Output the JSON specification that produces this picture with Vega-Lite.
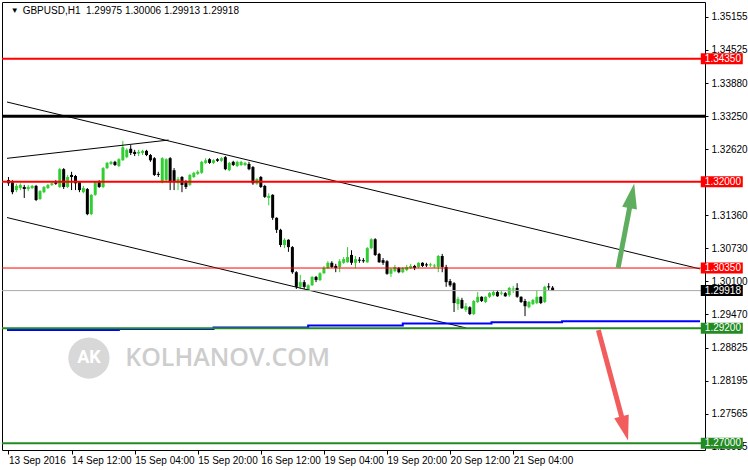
{
"$schema":"https://vega.github.io/schema/vega-lite/v6.json",
"width":703,"height":448,"autosize":"none",
"padding":{"left":2,"top":2,"right":43,"bottom":20},
"background":"white",
"config":{"view":{"stroke":"#000","strokeWidth":1},"axis":{"labelFont":"Liberation Sans","labelFontSize":10,"labelColor":"#000","tickColor":"#000","domain":false,"grid":false,"labelOverlap":false,"labelBound":false,"labelSeparation":0}},
"datasets":{
"bars":[
{"i":0,"o":1.3203,"h":1.3209,"l":1.3192,"c":1.3197},
{"i":1,"o":1.3199,"h":1.3203,"l":1.3176,"c":1.3180},
{"i":2,"o":1.3184,"h":1.3196,"l":1.3180,"c":1.3192},
{"i":3,"o":1.3188,"h":1.3197,"l":1.3184,"c":1.3194},
{"i":4,"o":1.3190,"h":1.3194,"l":1.3169,"c":1.3186},
{"i":5,"o":1.3186,"h":1.3194,"l":1.3182,"c":1.3190},
{"i":6,"o":1.3188,"h":1.3194,"l":1.3186,"c":1.3192},
{"i":7,"o":1.3192,"h":1.3194,"l":1.3163,"c":1.3165},
{"i":8,"o":1.3167,"h":1.3184,"l":1.3165,"c":1.3182},
{"i":9,"o":1.3180,"h":1.3192,"l":1.3178,"c":1.3190},
{"i":10,"o":1.3188,"h":1.3196,"l":1.3186,"c":1.3194},
{"i":11,"o":1.3194,"h":1.3199,"l":1.3192,"c":1.3197},
{"i":12,"o":1.3199,"h":1.3203,"l":1.3194,"c":1.3196},
{"i":13,"o":1.3190,"h":1.3226,"l":1.3188,"c":1.3224},
{"i":14,"o":1.3224,"h":1.3226,"l":1.3186,"c":1.3190},
{"i":15,"o":1.3190,"h":1.3213,"l":1.3188,"c":1.3209},
{"i":16,"o":1.3213,"h":1.3219,"l":1.3184,"c":1.3209},
{"i":17,"o":1.3211,"h":1.3213,"l":1.3184,"c":1.3197},
{"i":18,"o":1.3199,"h":1.3201,"l":1.3180,"c":1.3184},
{"i":19,"o":1.3180,"h":1.3192,"l":1.3178,"c":1.3188},
{"i":20,"o":1.3186,"h":1.3188,"l":1.3136,"c":1.3138},
{"i":21,"o":1.3138,"h":1.3176,"l":1.3136,"c":1.3175},
{"i":22,"o":1.3175,"h":1.3201,"l":1.3173,"c":1.3199},
{"i":23,"o":1.3199,"h":1.3203,"l":1.3188,"c":1.3190},
{"i":24,"o":1.3190,"h":1.3228,"l":1.3188,"c":1.3226},
{"i":25,"o":1.3226,"h":1.3238,"l":1.3224,"c":1.3236},
{"i":26,"o":1.3234,"h":1.3240,"l":1.3232,"c":1.3238},
{"i":27,"o":1.3238,"h":1.3240,"l":1.3230,"c":1.3232},
{"i":28,"o":1.3230,"h":1.3245,"l":1.3228,"c":1.3243},
{"i":29,"o":1.3241,"h":1.3278,"l":1.3240,"c":1.3266},
{"i":30,"o":1.3247,"h":1.3264,"l":1.3245,"c":1.3261},
{"i":31,"o":1.3263,"h":1.3270,"l":1.3251,"c":1.3255},
{"i":32,"o":1.3257,"h":1.3261,"l":1.3249,"c":1.3253},
{"i":33,"o":1.3254,"h":1.3261,"l":1.3249,"c":1.3257},
{"i":34,"o":1.3255,"h":1.3261,"l":1.3251,"c":1.3259},
{"i":35,"o":1.3259,"h":1.3261,"l":1.3249,"c":1.3251},
{"i":36,"o":1.3251,"h":1.3253,"l":1.3238,"c":1.3241},
{"i":37,"o":1.3245,"h":1.3247,"l":1.3211,"c":1.3213},
{"i":38,"o":1.3215,"h":1.3219,"l":1.3209,"c":1.3213},
{"i":39,"o":1.3199,"h":1.3247,"l":1.3197,"c":1.3245},
{"i":40,"o":1.3203,"h":1.3245,"l":1.3201,"c":1.3243},
{"i":41,"o":1.3245,"h":1.3247,"l":1.3184,"c":1.3199},
{"i":42,"o":1.3222,"h":1.3226,"l":1.3184,"c":1.3199},
{"i":43,"o":1.3197,"h":1.3209,"l":1.3184,"c":1.3205},
{"i":44,"o":1.3209,"h":1.3211,"l":1.3180,"c":1.3194},
{"i":45,"o":1.3199,"h":1.3203,"l":1.3186,"c":1.3190},
{"i":46,"o":1.3194,"h":1.3215,"l":1.3192,"c":1.3213},
{"i":47,"o":1.3209,"h":1.3219,"l":1.3207,"c":1.3217},
{"i":48,"o":1.3215,"h":1.3222,"l":1.3213,"c":1.3219},
{"i":49,"o":1.3217,"h":1.3240,"l":1.3215,"c":1.3238},
{"i":50,"o":1.3236,"h":1.3245,"l":1.3234,"c":1.3241},
{"i":51,"o":1.3243,"h":1.3245,"l":1.3234,"c":1.3236},
{"i":52,"o":1.3236,"h":1.3243,"l":1.3234,"c":1.3241},
{"i":53,"o":1.3243,"h":1.3245,"l":1.3238,"c":1.3240},
{"i":54,"o":1.3240,"h":1.3247,"l":1.3238,"c":1.3245},
{"i":55,"o":1.3247,"h":1.3249,"l":1.3222,"c":1.3224},
{"i":56,"o":1.3222,"h":1.3238,"l":1.3220,"c":1.3236},
{"i":57,"o":1.3238,"h":1.3240,"l":1.3230,"c":1.3232},
{"i":58,"o":1.3230,"h":1.3240,"l":1.3228,"c":1.3238},
{"i":59,"o":1.3232,"h":1.3240,"l":1.3230,"c":1.3238},
{"i":60,"o":1.3232,"h":1.3238,"l":1.3230,"c":1.3236},
{"i":61,"o":1.3234,"h":1.3238,"l":1.3222,"c":1.3224},
{"i":62,"o":1.3228,"h":1.3230,"l":1.3194,"c":1.3197},
{"i":63,"o":1.3196,"h":1.3207,"l":1.3194,"c":1.3205},
{"i":64,"o":1.3209,"h":1.3211,"l":1.3188,"c":1.3190},
{"i":65,"o":1.3192,"h":1.3194,"l":1.3169,"c":1.3171},
{"i":66,"o":1.3169,"h":1.3178,"l":1.3155,"c":1.3173},
{"i":67,"o":1.3175,"h":1.3176,"l":1.3127,"c":1.3131},
{"i":68,"o":1.3131,"h":1.3132,"l":1.3102,"c":1.3108},
{"i":69,"o":1.3108,"h":1.3110,"l":1.3075,"c":1.3079},
{"i":70,"o":1.3079,"h":1.3092,"l":1.3073,"c":1.3089},
{"i":71,"o":1.3089,"h":1.3090,"l":1.3066,"c":1.3075},
{"i":72,"o":1.3075,"h":1.3077,"l":1.3024,"c":1.3027},
{"i":73,"o":1.3027,"h":1.3029,"l":1.2995,"c":1.2999},
{"i":74,"o":1.2999,"h":1.3022,"l":1.2995,"c":1.3008},
{"i":75,"o":1.3008,"h":1.3012,"l":1.2995,"c":1.2999},
{"i":76,"o":1.2993,"h":1.3004,"l":1.2991,"c":1.3002},
{"i":77,"o":1.3002,"h":1.3020,"l":1.3001,"c":1.3018},
{"i":78,"o":1.3018,"h":1.3020,"l":1.3008,"c":1.3012},
{"i":79,"o":1.3012,"h":1.3027,"l":1.3010,"c":1.3025},
{"i":80,"o":1.3025,"h":1.3039,"l":1.3024,"c":1.3035},
{"i":81,"o":1.3035,"h":1.3048,"l":1.3033,"c":1.3045},
{"i":82,"o":1.3045,"h":1.3048,"l":1.3035,"c":1.3037},
{"i":83,"o":1.3039,"h":1.3043,"l":1.3027,"c":1.3035},
{"i":84,"o":1.3037,"h":1.3052,"l":1.3027,"c":1.3048},
{"i":85,"o":1.3045,"h":1.3056,"l":1.3043,"c":1.3052},
{"i":86,"o":1.3046,"h":1.3075,"l":1.3045,"c":1.3056},
{"i":87,"o":1.3060,"h":1.3069,"l":1.3041,"c":1.3045},
{"i":88,"o":1.3045,"h":1.3058,"l":1.3035,"c":1.3052},
{"i":89,"o":1.3051,"h":1.3056,"l":1.3045,"c":1.3049},
{"i":90,"o":1.3050,"h":1.3054,"l":1.3045,"c":1.3048},
{"i":91,"o":1.3046,"h":1.3075,"l":1.3045,"c":1.3073},
{"i":92,"o":1.3073,"h":1.3092,"l":1.3071,"c":1.3090},
{"i":93,"o":1.3090,"h":1.3092,"l":1.3058,"c":1.3060},
{"i":94,"o":1.3062,"h":1.3064,"l":1.3045,"c":1.3046},
{"i":95,"o":1.3050,"h":1.3054,"l":1.3041,"c":1.3045},
{"i":96,"o":1.3048,"h":1.3050,"l":1.3022,"c":1.3024},
{"i":97,"o":1.3024,"h":1.3035,"l":1.3018,"c":1.3033},
{"i":98,"o":1.3029,"h":1.3041,"l":1.3027,"c":1.3037},
{"i":99,"o":1.3035,"h":1.3037,"l":1.3025,"c":1.3027},
{"i":100,"o":1.3027,"h":1.3037,"l":1.3025,"c":1.3035},
{"i":101,"o":1.3031,"h":1.3041,"l":1.3029,"c":1.3037},
{"i":102,"o":1.3035,"h":1.3043,"l":1.3033,"c":1.3039},
{"i":103,"o":1.3039,"h":1.3041,"l":1.3031,"c":1.3035},
{"i":104,"o":1.3037,"h":1.3046,"l":1.3035,"c":1.3045},
{"i":105,"o":1.3045,"h":1.3046,"l":1.3037,"c":1.3039},
{"i":106,"o":1.3042,"h":1.3045,"l":1.3037,"c":1.3040},
{"i":107,"o":1.3040,"h":1.3045,"l":1.3037,"c":1.3042},
{"i":108,"o":1.3038,"h":1.3043,"l":1.3035,"c":1.3040},
{"i":109,"o":1.3037,"h":1.3060,"l":1.3027,"c":1.3058},
{"i":110,"o":1.3058,"h":1.3062,"l":1.3027,"c":1.3037},
{"i":111,"o":1.3037,"h":1.3041,"l":1.2999,"c":1.3008},
{"i":112,"o":1.3010,"h":1.3014,"l":1.2999,"c":1.3002},
{"i":113,"o":1.3006,"h":1.3008,"l":1.2951,"c":1.2968},
{"i":114,"o":1.2966,"h":1.2980,"l":1.2955,"c":1.2976},
{"i":115,"o":1.2974,"h":1.2978,"l":1.2957,"c":1.2958},
{"i":116,"o":1.2955,"h":1.2968,"l":1.2951,"c":1.2962},
{"i":117,"o":1.2960,"h":1.2962,"l":1.2945,"c":1.2947},
{"i":118,"o":1.2947,"h":1.2974,"l":1.2945,"c":1.2972},
{"i":119,"o":1.2970,"h":1.2989,"l":1.2968,"c":1.2980},
{"i":120,"o":1.2980,"h":1.2981,"l":1.2970,"c":1.2972},
{"i":121,"o":1.2970,"h":1.2981,"l":1.2968,"c":1.2980},
{"i":122,"o":1.2980,"h":1.2989,"l":1.2978,"c":1.2987},
{"i":123,"o":1.2983,"h":1.2993,"l":1.2981,"c":1.2989},
{"i":124,"o":1.2989,"h":1.2993,"l":1.2980,"c":1.2981},
{"i":125,"o":1.2986,"h":1.2991,"l":1.2983,"c":1.2988},
{"i":126,"o":1.2987,"h":1.2989,"l":1.2980,"c":1.2981},
{"i":127,"o":1.2983,"h":1.2999,"l":1.2980,"c":1.2997},
{"i":128,"o":1.2994,"h":1.3001,"l":1.2987,"c":1.2996},
{"i":129,"o":1.2997,"h":1.3006,"l":1.2978,"c":1.2980},
{"i":130,"o":1.2980,"h":1.2981,"l":1.2968,"c":1.2970},
{"i":131,"o":1.2972,"h":1.2976,"l":1.2943,"c":1.2962},
{"i":132,"o":1.2960,"h":1.2972,"l":1.2958,"c":1.2970},
{"i":133,"o":1.2966,"h":1.2976,"l":1.2964,"c":1.2974},
{"i":134,"o":1.2968,"h":1.2993,"l":1.2966,"c":1.2980},
{"i":135,"o":1.2980,"h":1.2981,"l":1.2966,"c":1.2968},
{"i":136,"o":1.2970,"h":1.3001,"l":1.2968,"c":1.2999},
{"i":137,"o":1.3000,"h":1.3006,"l":1.2993,"c":1.2998},
{"i":138,"o":1.29975,"h":1.30006,"l":1.29913,"c":1.29918}
],
"levels":[
{"price":1.3435,"label":"1.34350","role":"resistance"},
{"price":1.3325,"label":"1.33250","role":"key"},
{"price":1.32,"label":"1.32000","role":"resistance"},
{"price":1.3035,"label":"1.30350","role":"minor"},
{"price":1.29918,"label":"1.29918","role":"bid"},
{"price":1.292,"label":"1.29200","role":"support"},
{"price":1.27,"label":"1.27000","role":"support"}
],
"trend":[
{"line":"upper","i":-0.375,"p":1.33524},{"line":"upper","i":175.375,"p":1.30333},
{"line":"lower","i":-0.375,"p":1.31315},{"line":"lower","i":116.1,"p":1.29203},
{"line":"short","i":-0.375,"p":1.32447},{"line":"short","i":40.6,"p":1.32797}
],
"ma":[
{"i":-0.375,"p":1.29164},{"i":28,"p":1.29184},{"i":52,"p":1.29212},{"i":76,"p":1.29251},
{"i":100,"p":1.29289},{"i":122.5,"p":1.29314},{"i":140.4,"p":1.29333},{"i":175.375,"p":1.29333}
]
},
"layer":[
{"data":{"name":"bars"},"mark":{"type":"rule","strokeWidth":1},
 "encoding":{
  "x":{"field":"i","type":"quantitative","scale":{"domain":[-0.375,175.375],"nice":false,"zero":false},
   "axis":{"orient":"bottom","title":null,"values":[0,16,32,48,64,80,96,112,128],"tickCount":30,
    "labelExpr":"['13 Sep 2016','14 Sep 12:00','15 Sep 04:00','15 Sep 20:00','16 Sep 12:00','19 Sep 04:00','19 Sep 20:00','20 Sep 12:00','21 Sep 04:00'][round(datum.value/16)]",
    "tickSize":4,"labelAlign":"left","labelPadding":1,"labelFlush":false,"labelOverlap":false}},
  "y":{"field":"l","type":"quantitative","scale":{"domain":[1.26871,1.35436],"nice":false,"zero":false},
   "axis":{"orient":"right","title":null,"values":[1.35155,1.34525,1.3388,1.3325,1.3262,1.3136,1.3073,1.301,1.2947,1.28825,1.28195,1.27565,1.26935],"tickCount":30,
    "format":".5f","tickSize":3,"labelPadding":3,"labelOverlap":false,"labelAlign":"left"}},
  "y2":{"field":"h"},
  "color":{"condition":{"test":"datum.c >= datum.o","value":"#32cd32"},"value":"#000000"}}},
{"data":{"name":"bars"},"mark":{"type":"bar","size":3},
 "encoding":{"x":{"field":"i","type":"quantitative"},"y":{"field":"o","type":"quantitative"},"y2":{"field":"c"},
  "color":{"condition":{"test":"datum.c >= datum.o","value":"#32cd32"},"value":"#000000"}}},
{"data":{"values":[{}]},"mark":{"type":"point","shape":"circle","filled":true,"size":1700,"color":"#d8d8d8","opacity":1},
 "encoding":{"x":{"datum":20.4},"y":{"datum":1.28629}}},
{"data":{"values":[{}]},"mark":{"type":"text","text":"AK","font":"Roboto","fontSize":18,"fontWeight":"bold","color":"#ffffff","align":"center","baseline":"middle"},
 "encoding":{"x":{"datum":20.4},"y":{"datum":1.28629}}},
{"data":{"values":[{}]},"mark":{"type":"text","text":"KOLHANOV.COM","font":"Open Sans","fontSize":25,"fontWeight":600,"color":"#cdcdcd","align":"left","baseline":"middle"},
 "encoding":{"x":{"datum":29.6},"y":{"datum":1.28629}}},
{"data":{"name":"trend"},"mark":{"type":"line","color":"#000000","strokeWidth":1},
 "encoding":{"x":{"field":"i","type":"quantitative"},"y":{"field":"p","type":"quantitative"},"detail":{"field":"line"}}},
{"data":{"name":"ma"},"mark":{"type":"line","color":"#0000ff","strokeWidth":2,"interpolate":"step-after"},
 "encoding":{"x":{"field":"i","type":"quantitative"},"y":{"field":"p","type":"quantitative"}}},
{"data":{"name":"levels"},"transform":[{"filter":"datum.role == 'bid'"}],"mark":{"type":"rule","color":"#a9a9a9","strokeWidth":1},
 "encoding":{"y":{"field":"price","type":"quantitative"}}},
{"data":{"name":"levels"},"transform":[{"filter":"datum.role == 'resistance'"}],"mark":{"type":"rule","color":"#ff0000","strokeWidth":2},
 "encoding":{"y":{"field":"price","type":"quantitative"}}},
{"data":{"name":"levels"},"transform":[{"filter":"datum.role == 'minor'"}],"mark":{"type":"rule","color":"#ff0000","strokeWidth":1},
 "encoding":{"y":{"field":"price","type":"quantitative"}}},
{"data":{"name":"levels"},"transform":[{"filter":"datum.role == 'key'"}],"mark":{"type":"rule","color":"#000000","strokeWidth":3},
 "encoding":{"y":{"field":"price","type":"quantitative"}}},
{"data":{"name":"levels"},"transform":[{"filter":"datum.role == 'support'"}],"mark":{"type":"rule","color":"#228b22","strokeWidth":2},
 "encoding":{"y":{"field":"price","type":"quantitative"}}},
{"data":{"values":[{}]},"mark":{"type":"rule","strokeWidth":5,"color":"#5fad5f"},
 "encoding":{"x":{"datum":154.6},"y":{"datum":1.3035},"x2":{"datum":158.1},"y2":{"datum":1.3173}}},
{"data":{"values":[{}]},"mark":{"type":"point","shape":"M0,-1L0.6,1L-0.6,1Z","filled":true,"size":625,"angle":10.7,"color":"#5fad5f","opacity":1,"strokeWidth":0},
 "encoding":{"x":{"datum":158.1},"y":{"datum":1.3173}}},
{"data":{"values":[{}]},"mark":{"type":"rule","strokeWidth":5,"color":"#f25c5c"},
 "encoding":{"x":{"datum":149.6},"y":{"datum":1.29164},"x2":{"datum":156.3},"y2":{"datum":1.27283}}},
{"data":{"values":[{}]},"mark":{"type":"point","shape":"M0,-1L0.6,1L-0.6,1Z","filled":true,"size":625,"angle":164.7,"color":"#f25c5c","opacity":1,"strokeWidth":0},
 "encoding":{"x":{"datum":156.3},"y":{"datum":1.27283}}},
{"data":{"name":"levels"},"transform":[{"filter":"datum.role != 'key'"}],"mark":{"type":"tick","orient":"horizontal","size":42,"thickness":11,"opacity":1},
 "encoding":{"x":{"datum":180.9},"y":{"field":"price","type":"quantitative"},
  "color":{"field":"role","type":"nominal","legend":null,"scale":{"domain":["resistance","minor","bid","support"],"range":["#ff0000","#ff0000","#000000","#228b22"]}}}},
{"data":{"name":"levels"},"transform":[{"filter":"datum.role != 'key'"}],"mark":{"type":"text","align":"left","baseline":"middle","font":"Liberation Sans","fontSize":10,"color":"#ffffff"},
 "encoding":{"x":{"datum":176.6},"y":{"field":"price","type":"quantitative"},"text":{"field":"label"}}},
{"data":{"values":[{}]},"mark":{"type":"text","text":"▼","fontSize":8,"color":"#000000","align":"center","baseline":"middle"},
 "encoding":{"x":{"datum":1.6},"y":{"datum":1.35264}}},
{"data":{"values":[{}]},"mark":{"type":"text","text":"GBPUSD,H1\u00a0 1.29975 1.30006 1.29913 1.29918","font":"Liberation Sans","fontSize":10,"color":"#000000","align":"left","baseline":"middle"},
 "encoding":{"x":{"datum":3.6},"y":{"datum":1.35264}}}
]
}
